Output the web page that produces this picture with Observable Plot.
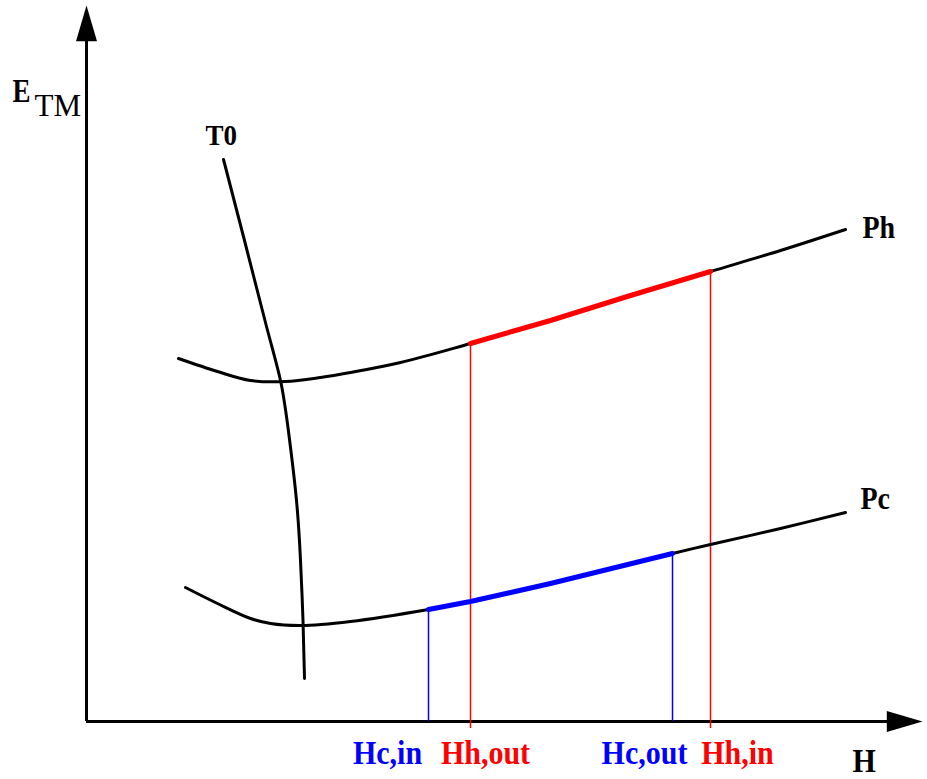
<!DOCTYPE html>
<html><head><meta charset="utf-8">
<script src="https://cdn.jsdelivr.net/npm/d3@7"></script>
<script src="https://cdn.jsdelivr.net/npm/@observablehq/plot@0.6"></script>
<style>body{margin:0;background:#fff}</style>
</head><body><div id="chart"></div>
<script>
// Curves: H (enthalpy) vs E_TM (arbitrary units)
const phH = [9.2, 13.1, 16.4, 19.9, 23.4, 26.4, 31.4, 38.4, 46.4, 54.4, 62.4, 69.4, 75.9];
const phE = [36.3, 35.0, 34.1, 34.0, 34.4, 34.9, 35.9, 37.8, 40.1, 42.6, 45.0, 47.1, 49.2];
const pcH = [9.9, 13.1, 16.4, 18.4, 21.4, 26.4, 34.2, 38.4, 46.4, 58.6, 62.4, 69.4, 75.9];
const pcE = [13.4, 11.8, 10.3, 9.8, 9.6, 10.0, 11.2, 12.0, 13.8, 16.8, 17.7, 19.3, 20.9];
const t0H = [13.7, 15.8, 18.0, 19.4, 20.2, 21.0, 21.4, 21.65, 21.8];
const t0E = [56.2, 48.1, 39.5, 34.1, 29.0, 22.1, 16.1, 10.1, 4.3];

// Stream limits
const hotRange = [38.4, 62.4];   // Hh,out .. Hh,in on Ph
const coldRange = [34.2, 58.6];  // Hc,in .. Hc,out on Pc
const markerNames = ["Hc,in", "Hh,out", "Hc,out", "Hh,in"];
const markerH = [34.2, 38.4, 58.6, 62.4];
const markerTop = [11.2, 37.8, 16.8, 45.0];
const markerBottom = [0, -0.7, 0, -0.7];
const markerColor = ["#0000ff", "#ff0000", "#0000ff", "#ff0000"];
const labelH = [30.1, 39.9, 55.8, 65.1];
const labelE = -4.2;

// Axis extents
const xAxisEnd = 83.6;
const yAxisEnd = 71.6;

const zip = (H, E) => H.map((h, i) => ({H: h, E: E[i]}));
const ph = zip(phH, phE);
const pc = zip(pcH, pcE);
const t0 = zip(t0H, t0E);
const hot = ph.filter(d => d.H >= hotRange[0] && d.H <= hotRange[1]);
const cold = pc.filter(d => d.H >= coldRange[0] && d.H <= coldRange[1]);
const markers = markerNames.map((n, i) => ({name: n, H: markerH[i], top: markerTop[i], bottom: markerBottom[i], color: markerColor[i], lh: labelH[i]}));

const arrowSymbol = {
  draw(ctx, size) {
    const r = Math.sqrt(size / Math.PI);
    ctx.moveTo(0, 0);
    ctx.lineTo(-r, 3.4 * r);
    ctx.lineTo(r, 3.4 * r);
    ctx.closePath();
  }
};

const serif = "'Liberation Serif', 'DejaVu Serif', serif";
const txt = (t, x, y, size, weight = "bold") =>
  Plot.text([{t}], {x, y, text: "t", fontSize: size, fontWeight: weight, fontFamily: serif, textAnchor: "start", lineAnchor: "bottom", fill: "#000"});

const chart = Plot.plot({
  width: 927,
  height: 779,
  margin: 0,
  x: {domain: [-8.6, 84.1], axis: null},
  y: {domain: [-5.8, 72.1], axis: null},
  style: {background: "#fff"},
  marks: [
    // axes
    Plot.ruleX([0], {y1: 0, y2: yAxisEnd - 3, stroke: "#000", strokeWidth: 3}),
    Plot.ruleY([0], {x1: 0, x2: xAxisEnd - 2.5, stroke: "#000", strokeWidth: 3}),
    Plot.dot([{H: 0, E: yAxisEnd}], {x: "H", y: "E", symbol: arrowSymbol, r: 10.5, fill: "#000", stroke: "none"}),
    Plot.dot([{H: xAxisEnd, E: 0}], {x: "H", y: "E", symbol: arrowSymbol, r: 10.5, rotate: 90, fill: "#000", stroke: "none"}),
    // vertical stream markers
    Plot.ruleX(markers, {x: "H", y1: "bottom", y2: "top", stroke: "color", strokeWidth: 1.5}),
    // curves
    Plot.line(ph, {x: "H", y: "E", curve: "catmull-rom", stroke: "#000", strokeWidth: 3}),
    Plot.line(pc, {x: "H", y: "E", curve: "catmull-rom", stroke: "#000", strokeWidth: 3}),
    Plot.line(t0, {x: "H", y: "E", curve: "natural", stroke: "#000", strokeWidth: 3}),
    Plot.line(hot, {x: "H", y: "E", stroke: "#ff0000", strokeWidth: 5}),
    Plot.line(cold, {x: "H", y: "E", stroke: "#0000ff", strokeWidth: 5}),
    // labels
    Plot.text(markers, {x: "lh", y: labelE, text: "name", fill: "color", fontSize: 30, fontWeight: "bold", fontFamily: serif, textAnchor: "middle", lineAnchor: "bottom"}),
    txt("H", 76.6, -5.0, 30),
    txt("Ph", 77.6, 48.4, 28),
    txt("Pc", 77.4, 21.3, 28),
    txt("T0", 11.9, 57.7, 27),
    txt("E", -7.4, 62.0, 27),
    txt("TM", -5.2, 60.6, 31, "normal")
  ]
});
// the reference lettering is slightly taller than the font's natural proportions
const stretch = {"E": 1.28, "TM": 1.0};
d3.select(chart).selectAll("text").each(function() {
  const s = stretch[this.textContent] ?? 1.13;
  const tr = this.getAttribute("transform") || "";
  this.setAttribute("transform", tr + ` scale(1,${s})`);
});
document.getElementById("chart").appendChild(chart);
</script>
</body></html>
